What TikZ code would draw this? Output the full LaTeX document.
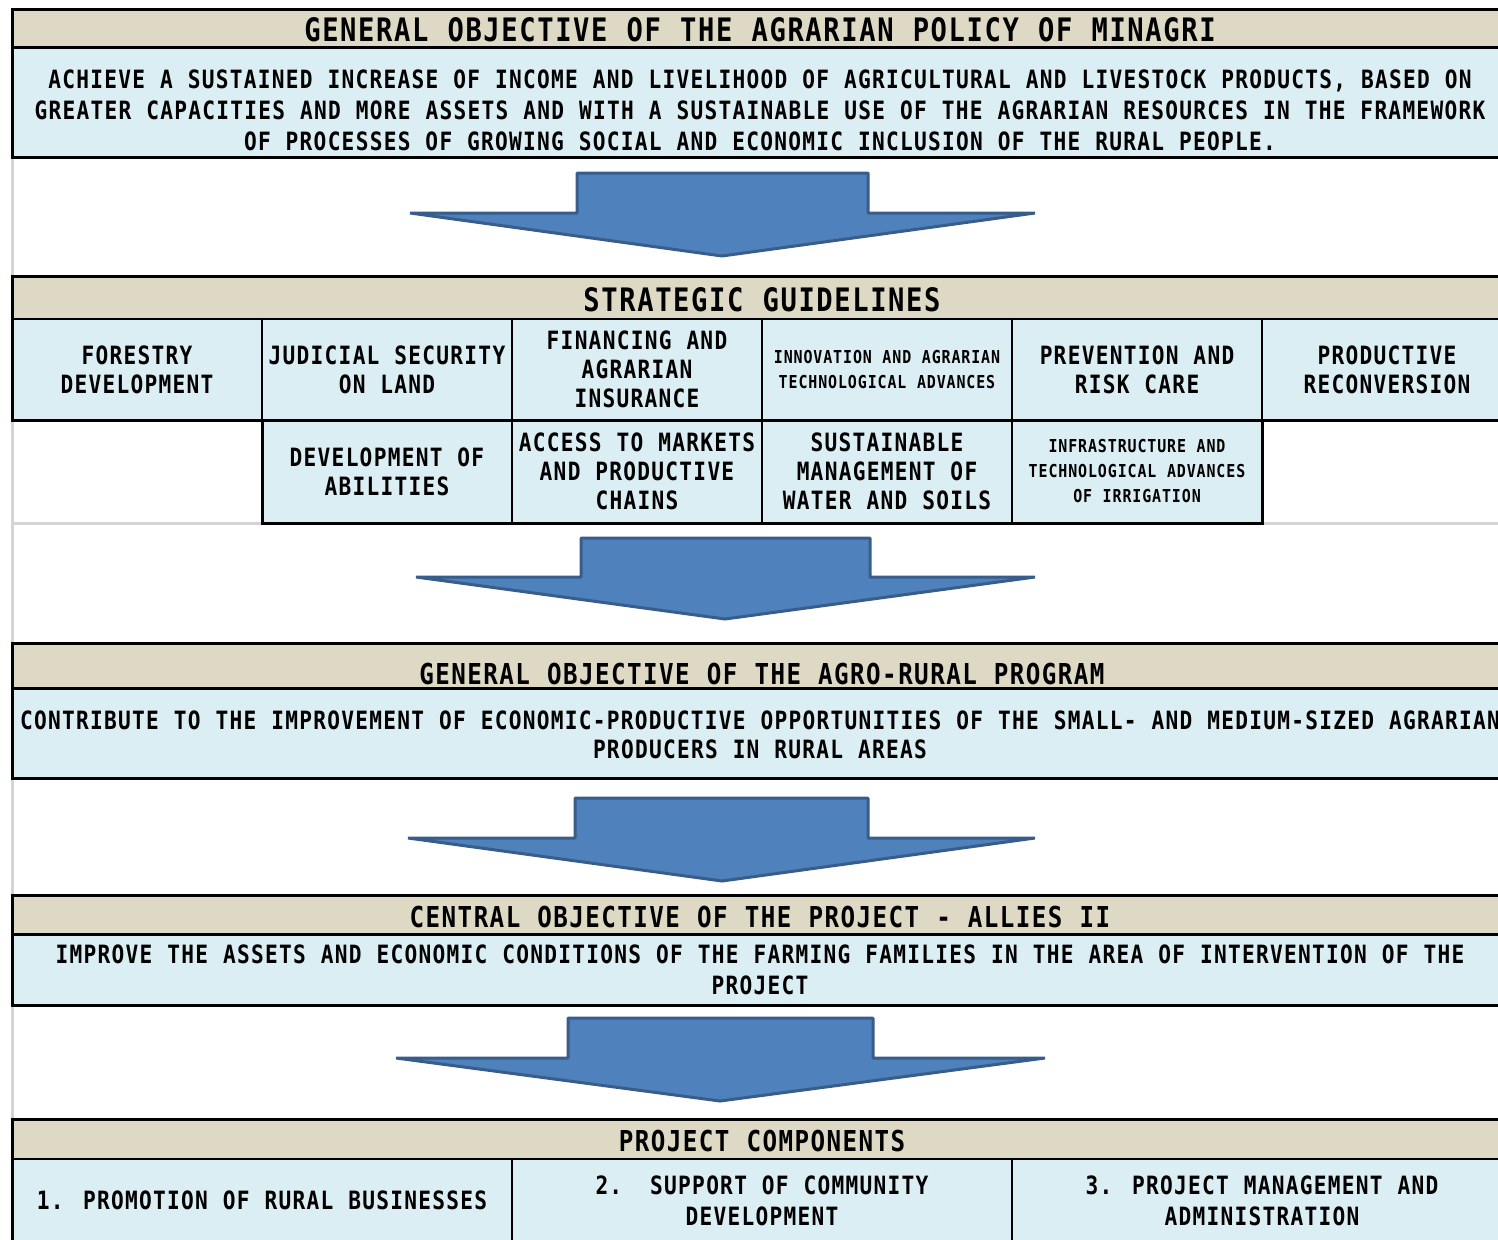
\documentclass[tikz,border=0pt]{standalone}
\usepackage{fontspec}
\usetikzlibrary{positioning}

\newfontfamily\gothic[FakeStretch=0.84,LetterSpace=5,WordSpace=1.07]{DejaVu Sans Mono Bold}
\newcommand{\bandfont}{\gothic\fontsize{16.15pt}{19pt}\selectfont}
\newcommand{\subbandfont}{\gothic\fontsize{14.4pt}{17pt}\selectfont}
\newcommand{\objfont}{\gothic\fontsize{12.6pt}{15.5pt}\selectfont}
\newcommand{\cellfont}{\gothic\fontsize{12.6pt}{14.5pt}\selectfont}
\newcommand{\tinycell}{\gothic\fontsize{8.9pt}{12.5pt}\selectfont}

\definecolor{headtan}{HTML}{DDD9C4}
\definecolor{bodyblue}{HTML}{DAEEF3}
\definecolor{arrowblue}{HTML}{4F81BD}
\definecolor{arrowedge}{HTML}{385D8A}
\definecolor{gridgray}{HTML}{D4D4D4}

\begin{document}
\begin{tikzpicture}[x=0.5pt, y=-0.5pt,
	every node/.style={align=flush center, inner sep=0pt, outer sep=0pt},
	headbox/.style={rectangle, draw, line width=1.5pt, fill=headtan, anchor=north west, minimum width=749pt},
	bodybox/.style={rectangle, draw, line width=1.5pt, fill=bodyblue, anchor=north west, minimum width=749pt},
	cell/.style={rectangle, draw, line width=1pt, fill=bodyblue, minimum width=125pt, text width=124pt, font=\cellfont},
	compcell/.style={cell, minimum width=250pt, text width=246pt, minimum height=41.5pt, font=\objfont},
	bandtext/.style={font=\bandfont, text depth=0pt},
	subbandtext/.style={font=\subbandfont, text depth=0pt},
	objtext/.style={font=\objfont, text depth=0pt},
	frame/.style={line width=1.5pt},
	gridline/.style={draw=gridgray, line width=1.5pt},
	blockarrow/.style={draw=arrowedge, fill=arrowblue, line width=1.5pt, line join=bevel}]
	\useasboundingbox (0,0) rectangle (1498,1239);
	\clip (0,0) rectangle (1498,1239);
	
	% Grid
	\draw[gridline] (12,9) -- (12,1239);
	\draw[gridline] (12,523) -- (262,523);
	\draw[gridline] (1262,523) -- (1498,523);
	
	% General objective of the agrarian policy
	\node (s1head) [headbox, minimum height=19pt] at (12,9) {};
	\node (s1body) [bodybox, minimum height=55pt] at (s1head.south west) {};
	\node (s1title) [bandtext] at (760,30) {GENERAL OBJECTIVE OF THE AGRARIAN POLICY OF MINAGRI};
	\node (s1text) [objtext] at (760,110) {ACHIEVE A SUSTAINED INCREASE OF INCOME AND LIVELIHOOD OF AGRICULTURAL AND LIVESTOCK PRODUCTS, BASED ON\\GREATER CAPACITIES AND MORE ASSETS AND WITH A SUSTAINABLE USE OF THE AGRARIAN RESOURCES IN THE FRAMEWORK\\OF PROCESSES OF GROWING SOCIAL AND ECONOMIC INCLUSION OF THE RURAL PEOPLE.};
	
	% Strategic guidelines
	\node (s2head) [headbox, minimum height=21.5pt] at (12,276) {};
	\node (s2title) [bandtext] at (762,300) {STRATEGIC GUIDELINES};
	\node (g1) [cell, minimum height=50.5pt, anchor=north west] at (s2head.south west) {FORESTRY\\DEVELOPMENT};
	\node (g2) [cell, minimum height=50.5pt, right=0pt of g1] {JUDICIAL SECURITY\\ON LAND};
	\node (g3) [cell, minimum height=50.5pt, right=0pt of g2] {FINANCING AND\\AGRARIAN\\INSURANCE};
	\node (g4) [cell, minimum height=50.5pt, right=0pt of g3, font=\tinycell] {INNOVATION AND AGRARIAN\\TECHNOLOGICAL ADVANCES};
	\node (g5) [cell, minimum height=50.5pt, right=0pt of g4] {PREVENTION AND\\RISK CARE};
	\node (g6) [cell, minimum height=50.5pt, right=0pt of g5] {PRODUCTIVE\\RECONVERSION};
	\node (r1) [cell, minimum height=51.5pt, below=0pt of g2] {DEVELOPMENT OF\\ABILITIES};
	\node (r2) [cell, minimum height=51.5pt, right=0pt of r1] {ACCESS TO MARKETS\\AND PRODUCTIVE\\CHAINS};
	\node (r3) [cell, minimum height=51.5pt, right=0pt of r2] {SUSTAINABLE\\MANAGEMENT OF\\WATER AND SOILS};
	\node (r4) [cell, minimum height=51.5pt, right=0pt of r3, font=\tinycell] {INFRASTRUCTURE AND\\TECHNOLOGICAL ADVANCES\\OF IRRIGATION};
	\draw[frame] (g1.north west) -- (g1.south west) -- (g6.south east);
	\draw[frame] (r1.north west) -- (r1.south west) -- (r4.south east) -- (r4.north east);
	
	% General objective of the agro-rural program
	\node (s3head) [headbox, minimum height=22.5pt] at (12,643) {};
	\node (s3body) [bodybox, minimum height=45pt] at (s3head.south west) {};
	\node (s3title) [subbandtext] at (762,674) {GENERAL OBJECTIVE OF THE AGRO-RURAL PROGRAM};
	\node (s3text) [objtext, font=\cellfont] at (760,734.5) {CONTRIBUTE TO THE IMPROVEMENT OF ECONOMIC-PRODUCTIVE OPPORTUNITIES OF THE SMALL- AND MEDIUM-SIZED AGRARIAN\\PRODUCERS IN RURAL AREAS};
	
	% Central objective of the project
	\node (s4head) [headbox, minimum height=19.5pt] at (12,895) {};
	\node (s4body) [bodybox, minimum height=35.5pt] at (s4head.south west) {};
	\node (s4title) [subbandtext] at (760,917) {CENTRAL OBJECTIVE OF THE PROJECT - ALLIES II};
	\node (s4text) [objtext] at (760,970) {IMPROVE THE ASSETS AND ECONOMIC CONDITIONS OF THE FARMING FAMILIES IN THE AREA OF INTERVENTION OF THE\\PROJECT};
	
	% Project components
	\node (s5head) [headbox, minimum height=20pt] at (12,1119) {};
	\node (s5title) [subbandtext] at (762,1141) {PROJECT COMPONENTS};
	\node (c1) [compcell, anchor=north west] at (s5head.south west) {1. PROMOTION OF RURAL BUSINESSES};
	\node (c2) [compcell, right=0pt of c1] {2.\hspace{14pt}SUPPORT OF COMMUNITY\\DEVELOPMENT};
	\node (c3) [compcell, right=0pt of c2] {3. PROJECT MANAGEMENT AND\\ADMINISTRATION};
	\draw[frame] (c1.north west) -- (c1.south west);
	
	% Arrows
	\draw[blockarrow] (410,213) -- (577,213) -- (577,173) -- (868,173) -- (868,213) -- (1035,213) -- (722,256) -- cycle;
	\draw[blockarrow] (416,577) -- (581,577) -- (581,538) -- (870,538) -- (870,577) -- (1035,577) -- (725,619) -- cycle;
	\draw[blockarrow] (408,838) -- (575,838) -- (575,798) -- (868,798) -- (868,838) -- (1035,838) -- (722,881) -- cycle;
	\draw[blockarrow] (396,1058) -- (568,1058) -- (568,1018) -- (873,1018) -- (873,1058) -- (1045,1058) -- (720,1101) -- cycle;
\end{tikzpicture}
\end{document}
